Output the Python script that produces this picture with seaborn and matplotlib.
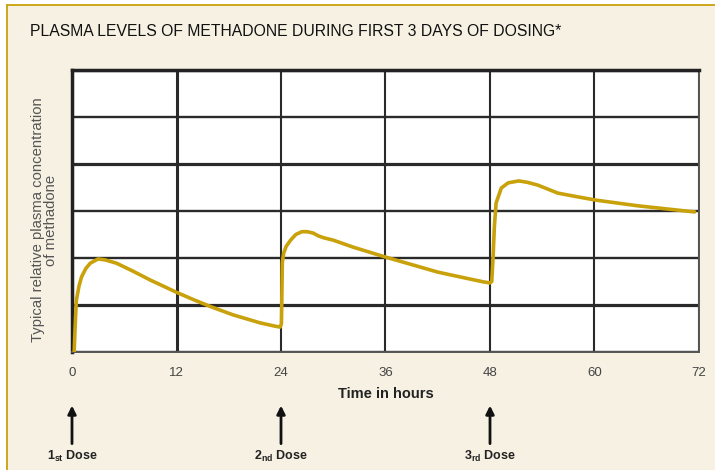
import matplotlib
matplotlib.use("Agg")
import matplotlib.pyplot as plt
import matplotlib.lines as mlines
import matplotlib.patches as mpatches
import pandas as pd
import seaborn as sns

# Curve (hours, relative level in grid units)
hours = [0.25, 0.35, 0.5, 0.8, 1.1, 1.6, 2.1, 3.0, 3.8, 5.1, 7.0, 9.0, 12.0, 14.0,
         16.0, 18.5, 21.6, 23.3, 23.9,
         24.05, 24.1, 24.15, 24.3, 24.6, 25.1, 25.7, 26.4, 27.0, 27.7, 28.3, 28.9,
         30.0, 32.3, 36.0, 39.0, 42.0, 45.0, 47.3, 48.0,
         48.2, 48.35, 48.5, 48.7, 49.3, 50.1, 51.3, 52.3, 53.5, 55.8, 58.1, 60.2,
         65.0, 68.0, 71.5]
level = [0.0, 0.5, 1.1, 1.4, 1.6, 1.78, 1.89, 1.98, 1.96, 1.89, 1.72, 1.53, 1.27, 1.11,
         0.96, 0.79, 0.62, 0.55, 0.53,
         0.6, 1.2, 1.9, 2.1, 2.25, 2.38, 2.5, 2.56, 2.56, 2.53, 2.47, 2.43,
         2.38, 2.23, 2.02, 1.86, 1.70, 1.58, 1.49, 1.47,
         1.5, 2.0, 2.66, 3.17, 3.49, 3.60, 3.64, 3.61, 3.55, 3.38, 3.30, 3.23,
         3.11, 3.05, 2.98]

x_ticks = [0, 12, 24, 36, 48, 60, 72]
y_grid = [0, 1, 2, 3, 4, 5, 6]
dose_hours = [0, 24, 48]
dose_labels = [r"1$_\mathbf{st}$ Dose", r"2$_\mathbf{nd}$ Dose", r"3$_\mathbf{rd}$ Dose"]

title = "PLASMA LEVELS OF METHADONE DURING FIRST 3 DAYS OF DOSING*"
ylabel = "Typical relative plasma concentration\nof methadone"
xlabel = "Time in hours"

cream = "#f6f1e3"
gold = "#c8a10b"

sns.set_style("white")
plt.rcParams["font.family"] = ["Liberation Sans", "DejaVu Sans"]
plt.rcParams["mathtext.fontset"] = "custom"
plt.rcParams["mathtext.rm"] = "Liberation Sans"
plt.rcParams["mathtext.bf"] = "Liberation Sans:bold"

fig = plt.figure(figsize=(7.15, 4.7), dpi=100)
fig.patch.set_facecolor("white")

# cream panel with gold rule on top and left
x0, y0 = 7 / 715, 1 - 5 / 470
fig.patches.append(mpatches.Rectangle((x0, 0), 1 - x0, y0, transform=fig.transFigure,
                                      facecolor=cream, edgecolor="none", zorder=-5))
fig.lines.append(mlines.Line2D([x0, 1], [y0, y0], transform=fig.transFigure,
                               color=gold, lw=1.3))
fig.lines.append(mlines.Line2D([x0, x0], [0, y0], transform=fig.transFigure,
                               color=gold, lw=1.3))

ax = fig.add_axes([72 / 715, 1 - 352 / 470, 627 / 715, 282 / 470])
ax.set_facecolor("white")

df = pd.DataFrame({"hours": hours, "level": level})

# grid
for i, h in enumerate(x_ticks):
    ax.axvline(h, color="#2a2a2a", lw=2.2 if i in (0, 1) else 1.5, zorder=1)
for j, v in enumerate(y_grid):
    ax.axhline(v, color="#2a2a2a", lw=2.3 if v in (1, 4, 6) else 1.7, zorder=1)

sns.lineplot(data=df, x="hours", y="level", ax=ax, color=gold, lw=2.6,
             sort=False, estimator=None, zorder=3)

ax.set_xlim(0, 72)
ax.set_ylim(0, 6)
ax.set_xticks(x_ticks)
ax.set_xticklabels([str(t) for t in x_ticks], fontsize=9.5, color="#444444")
ax.set_yticks([])
ax.tick_params(axis="x", length=0, pad=11)

for side in ["left", "top"]:
    ax.spines[side].set_color("#222222")
    ax.spines[side].set_linewidth(2.5)
for side in ["right", "bottom"]:
    ax.spines[side].set_color("#555555")
    ax.spines[side].set_linewidth(1.4)

ax.set_xlabel(xlabel, fontsize=10.5, fontweight="bold", color="#222222")
ax.xaxis.set_label_coords(0.5, -0.125)
ax.set_ylabel(ylabel, fontsize=10.7, color="#555555", linespacing=0.95)
ax.yaxis.set_label_coords(-0.022, 0.468)

# dose arrows and labels
for h, lab in zip(dose_hours, dose_labels):
    ax.annotate("", xy=(h, -0.19), xytext=(h, -0.325),
                xycoords=("data", "axes fraction"), textcoords=("data", "axes fraction"),
                arrowprops=dict(arrowstyle="-|>", color="#111111", lw=2,
                                mutation_scale=12, shrinkA=0, shrinkB=0),
                annotation_clip=False)
    ax.text(h, -0.37, lab, transform=ax.get_xaxis_transform(), ha="center", va="center",
            fontsize=9, fontweight="bold", color="#222222", clip_on=False)

fig.text(30 / 715, 1 - 32 / 470, title, fontsize=11.3, va="center", ha="left",
         color="#111111")

fig.savefig("out.png", dpi=100, facecolor=fig.get_facecolor())
